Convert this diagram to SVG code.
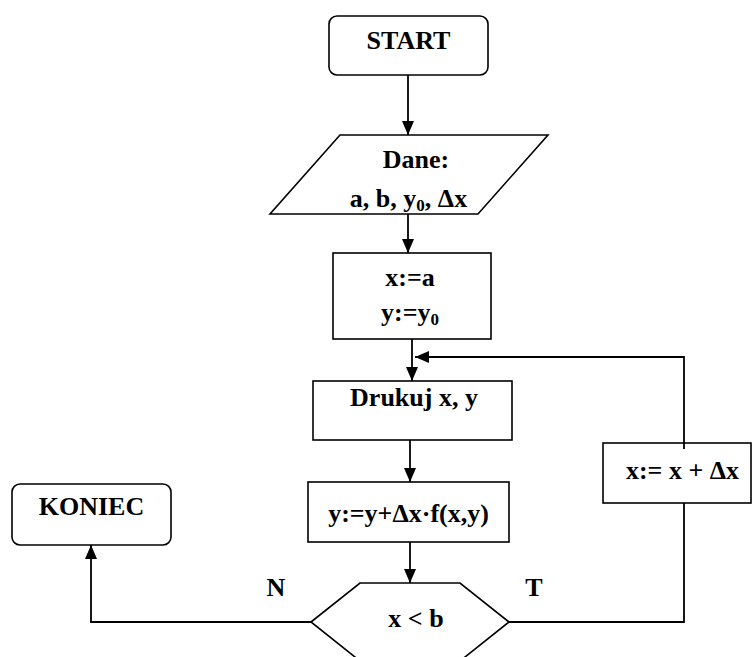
<svg xmlns="http://www.w3.org/2000/svg" width="753" height="657" viewBox="0 0 753 657">
<style>
.s{fill:#fff;stroke:#000;stroke-width:1.6}
.t{font-family:"Liberation Serif","Times New Roman",serif;font-weight:bold;font-size:26px;fill:#000;text-anchor:middle}
.c{fill:none;stroke:#000;stroke-width:1.8}
</style>
<defs>
<marker id="ah" markerUnits="userSpaceOnUse" viewBox="0 0 14 12" refX="14" refY="6" markerWidth="14" markerHeight="12" orient="auto">
<path d="M0,0 L14,6 L0,12 z" fill="#000"/>
</marker>
</defs>
<rect width="753" height="657" fill="#fff"/>
<g id="start">
<rect class="s" x="329" y="16" width="159" height="59" rx="8"/>
<text class="t" x="408.5" y="49">START</text>
</g>
<g id="dane">
<polygon class="s" points="340,135 548,135 478,214 270,214"/>
<text class="t" x="416" y="168">Dane:</text>
<text class="t" x="408.5" y="207">a, b, y<tspan font-size="17" dy="4">0</tspan><tspan dy="-4">, Δx</tspan></text>
</g>
<g id="init">
<rect class="s" x="333" y="253" width="158" height="86"/>
<text class="t" x="410" y="286">x:=a</text>
<text class="t" x="410" y="321">y:=y<tspan font-size="17" dy="4">0</tspan></text>
</g>
<g id="drukuj">
<rect class="s" x="313" y="381" width="199" height="59"/>
<text class="t" x="414" y="406">Drukuj x, y</text>
</g>
<g id="update-y">
<rect class="s" x="308" y="482" width="201" height="60"/>
<text class="t" x="408.5" y="522">y:=y+Δx·f(x,y)</text>
</g>
<g id="decision">
<polygon class="s" points="311,622 360,583 460,583 509,622 460,661 360,661"/>
<text class="t" x="416" y="627">x &lt; b</text>
</g>
<g id="update-x">
<rect class="s" x="603" y="443" width="148" height="60"/>
<text class="t" x="682.5" y="479">x:= x + Δx</text>
</g>
<g id="koniec">
<rect class="s" x="12" y="484" width="159" height="61" rx="8"/>
<text class="t" x="91.5" y="515">KONIEC</text>
</g>
<g id="labels">
<text class="t" x="276" y="596">N</text>
<text class="t" x="534" y="596">T</text>
</g>
<g id="connectors">
<path class="c" d="M408,75 V135" marker-end="url(#ah)"/>
<path class="c" d="M408,214 V253" marker-end="url(#ah)"/>
<path class="c" d="M412,339 V381" marker-end="url(#ah)"/>
<path class="c" d="M410,440 V482" marker-end="url(#ah)"/>
<path class="c" d="M410,542 V583" marker-end="url(#ah)"/>
<path class="c" d="M311,622 H91 V545" marker-end="url(#ah)"/>
<path class="c" d="M509,622 H684 V503"/>
<path class="c" d="M684,449 V357 H415" marker-end="url(#ah)"/>
</g>
</svg>
